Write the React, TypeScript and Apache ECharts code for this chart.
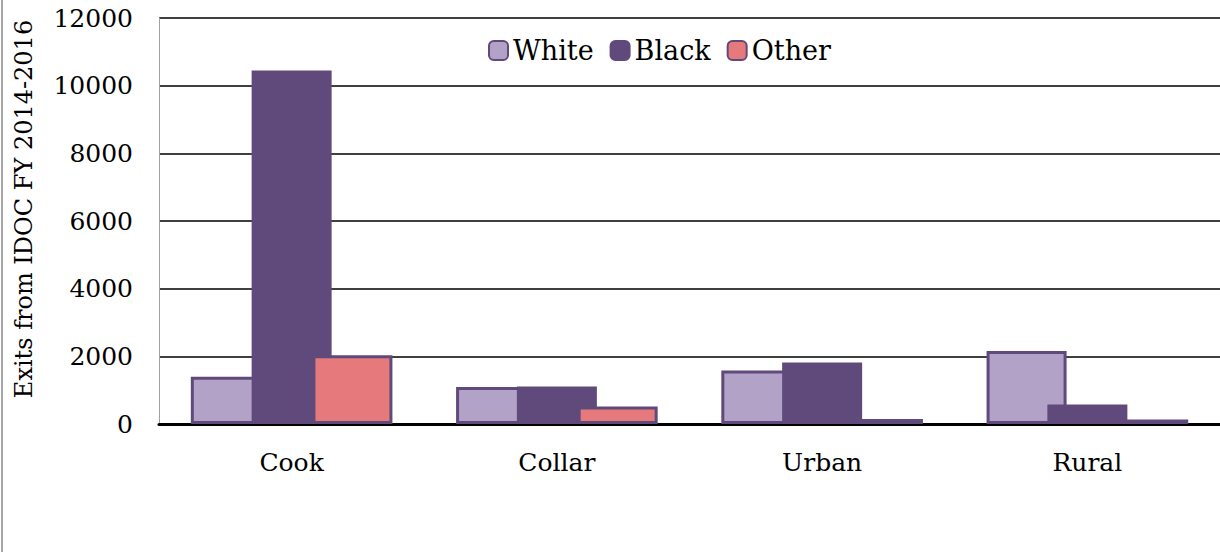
import React, { useEffect, useRef } from "react";
import * as echarts from "echarts";

const categories = ["Cook", "Collar", "Urban", "Rural"];
const whiteValues = [1400, 1090, 1580, 2160];
const blackValues = [10450, 1110, 1820, 580];
const otherValues = [2030, 520, 150, 130];
const yTicks = { min: 0, max: 12000, interval: 2000 };

const FONT = "DejaVu Serif";
const BORDER = "#604a7b";

export default function App() {
  const ref = useRef<HTMLDivElement>(null);
  useEffect(() => {
    if (!ref.current) return;
    const chart = echarts.init(ref.current, undefined, { renderer: "svg" });
    const mk = (name: string, data: number[], color: string, border: number) => ({
      name,
      type: "bar",
      data,
      barWidth: 80,
      barGap: "-24%",
      itemStyle: { color, borderColor: BORDER, borderWidth: border },
    });
    chart.setOption({
      animation: false,
      backgroundColor: "#ffffff",
      textStyle: { fontFamily: FONT },
      grid: { left: 159, top: 18, width: 1064, height: 406 },
      legend: {
        top: 32,
        left: 483,
        itemWidth: 19,
        itemHeight: 19,
        itemGap: 16,
        textStyle: { fontFamily: FONT, fontSize: 27, color: "#000" },
        data: ["White", "Black", "Other"],
      },
      xAxis: {
        type: "category",
        data: categories,
        axisLine: { lineStyle: { color: "#000", width: 3 } },
        axisTick: { show: false },
        axisLabel: { fontFamily: FONT, fontSize: 25, color: "#000", margin: 26 },
      },
      yAxis: {
        type: "value",
        min: yTicks.min,
        max: yTicks.max,
        interval: yTicks.interval,
        axisLine: { show: true, lineStyle: { color: "#a0a0a0", width: 1 } },
        axisTick: { show: false },
        splitLine: { lineStyle: { color: "#000", width: 1.5 } },
        axisLabel: {
          fontFamily: FONT,
          fontSize: 25,
          color: "#000",
          margin: 26,
          formatter: (v: number) => String(v),
        },
      },
      graphic: [
        {
          type: "line",
          shape: { x1: 2, y1: 0, x2: 2, y2: 552 },
          style: { stroke: "#a6a6a6", lineWidth: 2 },
        },
        {
          type: "text",
          x: 24,
          y: 209,
          rotation: Math.PI / 2,
          style: {
            text: "Exits from IDOC FY 2014-2016",
            font: `24px "${FONT}"`,
            fill: "#000",
            align: "center",
            verticalAlign: "middle",
          },
        },
      ],
      series: [
        mk("White", whiteValues, "#b3a2c7", 3),
        mk("Black", blackValues, "#604a7b", 3),
        mk("Other", otherValues, "#e6797b", 3),
      ],
    });
    return () => chart.dispose();
  }, []);
  return (
    <div
      ref={ref}
      style={{ position: "fixed", left: 0, top: 0, width: 1220, height: 552 }}
    />
  );
}
